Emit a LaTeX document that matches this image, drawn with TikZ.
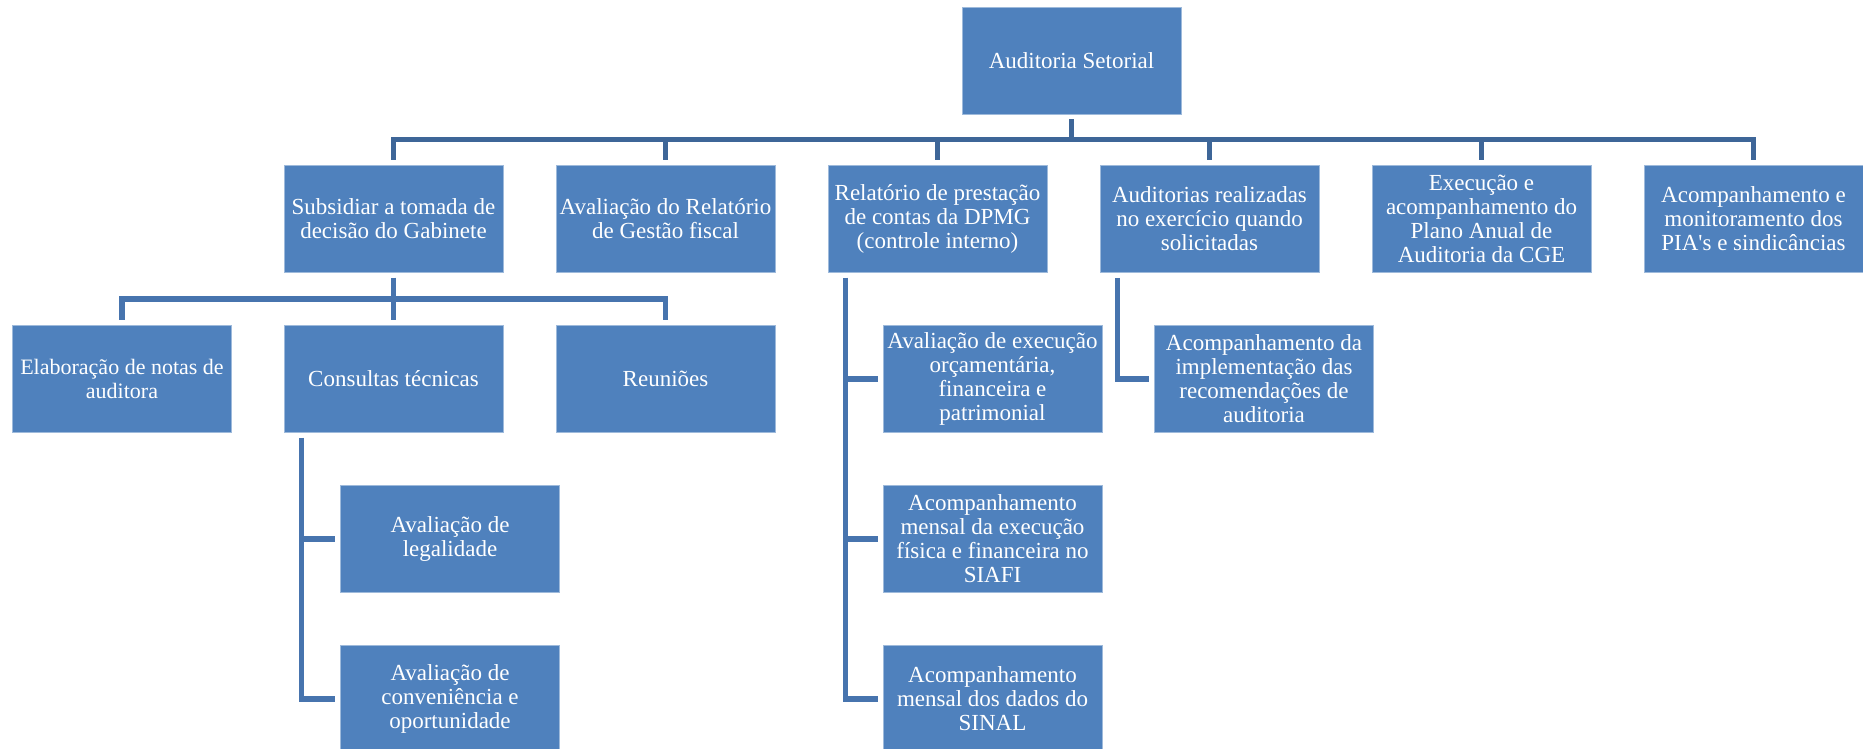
\documentclass[tikz,border=0pt]{standalone}
\usepackage{fontspec}
\setmainfont{Liberation Serif}
\usetikzlibrary{calc}

\definecolor{boxblue}{HTML}{4F81BD}
\definecolor{lineblue}{HTML}{4774AE}
\definecolor{topblue}{HTML}{3E6698}

\tikzset{
  box/.style={rectangle, fill=boxblue, draw=boxblue!55!white, line width=0.4pt,
    minimum width=109.5pt, minimum height=53.5pt, inner sep=0pt,
    align=center, text=white, font=\fontsize{11.5}{12}\selectfont},
  link/.style={draw=lineblue, line width=2.75pt, shorten <=2.5pt, shorten >=2.5pt},
  elbow/.style={to path={(\tikztostart) |- ($(\tikztostart)!.5!(\tikztotarget)$) -| (\tikztotarget)}},
}

\begin{document}
\begin{tikzpicture}[x=0.5pt,y=-0.5pt]
  \useasboundingbox (0,0) rectangle (1863,749);

  \draw (1071.5,60.5) node[box] (root) {Auditoria Setorial};

  \draw (393.5,219) node[box] (sub) {Subsidiar a tomada de\\decisão do Gabinete};
  \draw (665.5,219) node[box] (rgf) {Avaliação do Relatório\\de Gestão fiscal};
  \draw (937.5,219) node[box] (rel) {Relatório de prestação\\de contas da DPMG\\(controle interno)};
  \draw (1209.5,219) node[box] (aud) {Auditorias realizadas\\no exercício quando\\solicitadas};
  \draw (1481.5,219) node[box] (paa) {Execução e\\acompanhamento do\\Plano Anual de\\Auditoria da CGE};
  \draw (1753.5,219) node[box] (pia) {Acompanhamento e\\monitoramento dos\\PIA\textquotesingle s e sindicâncias};

  \draw (122,379) node[box,font=\fontsize{11}{12}\selectfont] (notas) {Elaboração de notas de\\auditora};
  \draw (393.5,379) node[box] (cons) {Consultas técnicas};
  \draw (665.5,379) node[box] (reun) {Reuniões};

  \draw (450,539) node[box] (legal) {Avaliação de\\legalidade};
  \draw (450,699) node[box] (conv) {Avaliação de\\conveniência e\\oportunidade};

  \draw (992.5,379) node[box] (orc) {Avaliação de execução\\orçamentária,\\financeira e\\patrimonial};
  \draw (992.5,539) node[box] (siafi) {Acompanhamento\\mensal da execução\\física e financeira no\\SIAFI};
  \draw (992.5,699) node[box] (sinal) {Acompanhamento\\mensal dos dados do\\SINAL};

  \draw (1264,379) node[box] (recom) {Acompanhamento da\\implementação das\\recomendações de\\auditoria};

  % top level
  \foreach \c in {sub,rgf,rel,aud,paa,pia}
    \path[link,draw=topblue] (root.south) edge[elbow] (\c.north);

  % under the first box
  \foreach \c in {notas,cons,reun}
    \path[link] (sub.south) edge[elbow] (\c.north);

  % hanging lists
  \foreach \c in {legal,conv}
    \draw[link] ([xshift=9pt]cons.south west) |- (\c.west);
  \foreach \c in {orc,siafi,sinal}
    \draw[link] ([xshift=9pt]rel.south west) |- (\c.west);
  \draw[link] ([xshift=9pt]aud.south west) |- (recom.west);
\end{tikzpicture}
\end{document}
